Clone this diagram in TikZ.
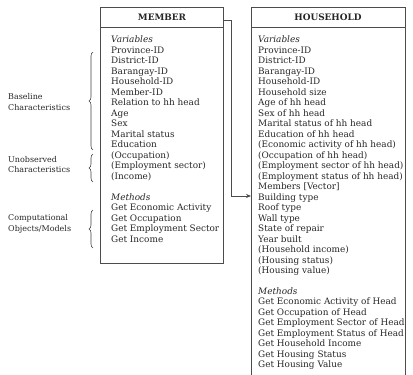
\documentclass[tikz,border=0pt]{standalone}
\usepackage{fontspec}
\setmainfont{DejaVu Serif}
\usetikzlibrary{arrows.meta,decorations.pathreplacing,calc}
\begin{document}
\begin{tikzpicture}[x=1pt,y=-1pt,
  boxline/.style={draw=black!70, line width=0.8pt},
  body/.style={anchor=north west, align=left, inner sep=0pt, text=black!85,
    font=\fontsize{8.9}{10.48}\selectfont},
  head/.style={font=\fontsize{8.9}{10}\selectfont\bfseries, text=black!85},
  side/.style={anchor=west, align=left, inner sep=0pt, text=black!85,
    font=\fontsize{8}{10.8}\selectfont},
  brc/.style={draw=black!75, line width=0.6pt, decorate,
    decoration={brace, amplitude=4pt, raise=0pt}}]
\useasboundingbox (0,0) rectangle (413,375);
% boxes
\node[boxline, anchor=north west, minimum width=123pt, minimum height=256pt, inner sep=0pt] (member) at (100,7) {};
\node[boxline, anchor=north west, minimum width=154pt, minimum height=390pt, inner sep=0pt] (household) at (251,7) {};
\draw[boxline] ($(member.north west)+(0,20)$) -- ($(member.north east)+(0,20)$);
\draw[boxline] ($(household.north west)+(0,20)$) -- ($(household.north east)+(0,20)$);
\node[head] (mtitle) at (162,17.5) {MEMBER};
\node[head] (htitle) at (328,17.5) {HOUSEHOLD};
% member text
\node[body] (mtext) at (111,36) {\textit{Variables}\\
Province-ID\\District-ID\\Barangay-ID\\Household-ID\\Member-ID\\Relation to hh head\\Age\\Sex\\Marital status\\Education\\(Occupation)\\(Employment sector)\\(Income)\\[10.48pt]
\textit{Methods}\\Get Economic Activity\\Get Occupation\\Get Employment Sector\\Get Income};
% household text
\node[body] (htext) at (258,36) {\textit{Variables}\\
Province-ID\\District-ID\\Barangay-ID\\Household-ID\\Household size\\Age of hh head\\Sex of hh head\\Marital status of hh head\\Education of hh head\\(Economic activity of hh head)\\(Occupation of hh head)\\(Employment sector of hh head)\\(Employment status of hh head)\\Members [Vector]\\Building type\\Roof type\\Wall type\\State of repair\\Year built\\(Household income)\\(Housing status)\\(Housing value)\\[10.48pt]
\textit{Methods}\\Get Economic Activity of Head\\Get Occupation of Head\\Get Employment Sector of Head\\Get Employment Status of Head\\Get Household Income\\Get Housing Status\\Get Housing Value};
% connector
\coordinate (c1) at ($(member.north east)+(0,13)$);
\coordinate (c2) at (231,20);
\coordinate (c3) at (231,196);
\coordinate (c4) at (household.west |- c3);
\draw[boxline, line width=0.7pt, -{Stealth[length=5pt,width=4pt]}] (c1) -- (c2) -- (c3) -- (c4);
% side labels
\node[side] (l1) at (8,102) {Baseline\\Characteristics};
\node[side] (l2) at (8,164.5) {Unobserved\\Characteristics};
\node[side] (l3) at (8,223.5) {Computational\\Objects/Models};
\coordinate (b1t) at (93,52); \coordinate (b1b) at (93,150);
\coordinate (b2t) at (93,154); \coordinate (b2b) at (93,182);
\coordinate (b3t) at (93,210); \coordinate (b3b) at (93,248);
\draw[brc] (b1b) -- (b1t);
\draw[brc] (b2b) -- (b2t);
\draw[brc] (b3b) -- (b3t);
\end{tikzpicture}
\end{document}
